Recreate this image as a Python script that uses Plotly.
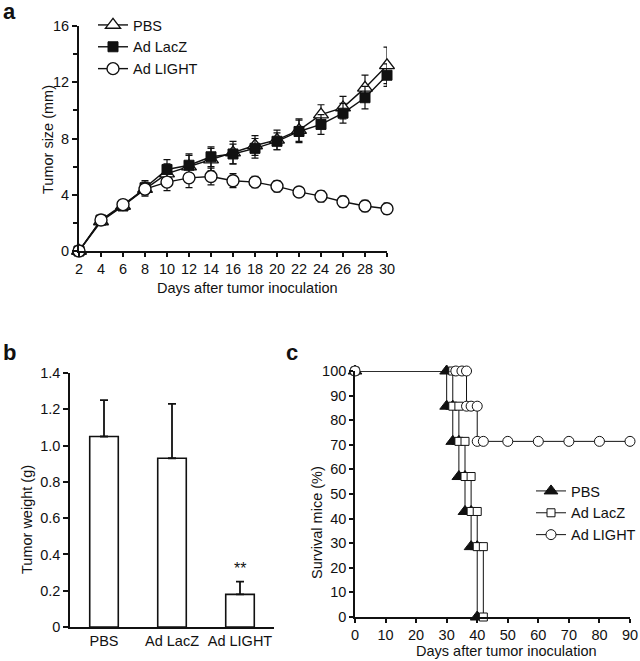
import plotly.graph_objects as go

# ---------------- data ----------------
days = [2, 4, 6, 8, 10, 12, 14, 16, 18, 20, 22, 24, 26, 28, 30]
pbs_size = [0, 2.1, 3.2, 4.4, 5.5, 6.0, 6.5, 7.0, 7.5, 7.9, 8.6, 9.7, 10.2, 11.6, 13.2]
pbs_err = [0, 0.2, 0.2, 0.5, 0.7, 0.8, 0.8, 0.8, 0.7, 0.7, 0.8, 0.7, 0.8, 0.9, 1.3]
lacz_size = [0, 2.2, 3.2, 4.5, 5.8, 6.1, 6.7, 6.9, 7.3, 7.8, 8.5, 9.0, 9.8, 10.9, 12.5]
lacz_err = [0, 0.2, 0.2, 0.5, 0.7, 0.8, 0.7, 0.7, 0.7, 0.6, 0.8, 0.7, 0.7, 0.8, 0.8]
light_size = [0, 2.2, 3.3, 4.4, 4.9, 5.2, 5.3, 5.0, 4.9, 4.6, 4.2, 3.9, 3.5, 3.2, 3.0]
light_err = [0, 0.2, 0.2, 0.4, 0.6, 0.7, 0.6, 0.5, 0.4, 0.4, 0.3, 0.4, 0.4, 0.4, 0.4]

groups = ["PBS", "Ad LacZ", "Ad LIGHT"]
weight = [1.05, 0.93, 0.18]
weight_err = [0.20, 0.30, 0.07]

pbs_t = [0, 30, 30, 32, 32, 34, 34, 36, 36, 38, 38, 40, 40]
pbs_s = [100, 100, 85.7, 85.7, 71.4, 71.4, 57.1, 57.1, 42.9, 42.9, 28.6, 28.6, 0]
lacz_t = [0, 32, 32, 34, 34, 36, 36, 38, 38, 40, 40, 42, 42]
lacz_s = [100, 100, 85.7, 85.7, 71.4, 71.4, 57.1, 57.1, 42.9, 42.9, 28.6, 28.6, 0]
light_t = [0, 33, 35, 36.5, 36.5, 38, 40, 40, 42, 50, 60, 70, 80, 90]
light_s = [100, 100, 100, 100, 85.7, 85.7, 85.7, 71.4, 71.4, 71.4, 71.4, 71.4, 71.4, 71.4]

W, H = 640, 661
FONT = "Arial, Liberation Sans, sans-serif"
INK = "#111111"


def px_x(a, b):
    return [a / W, b / W]


def px_y(top, bottom):
    return [1 - bottom / H, 1 - top / H]


fig = go.Figure()

# ---------------- panel a ----------------
err_style = dict(type="data", thickness=1.2, width=3.5, color=INK)
fig.add_trace(go.Scatter(
    x=days, y=pbs_size, name="PBS", mode="lines+markers",
    error_y=dict(array=pbs_err, **err_style),
    line=dict(color=INK, width=1.4),
    marker=dict(symbol="triangle-up", size=13, color="white", line=dict(color=INK, width=1.4)),
    xaxis="x", yaxis="y", legend="legend", cliponaxis=False))
fig.add_trace(go.Scatter(
    x=days, y=lacz_size, name="Ad LacZ", mode="lines+markers",
    error_y=dict(array=lacz_err, **err_style),
    line=dict(color=INK, width=1.4),
    marker=dict(symbol="square", size=10, color=INK, line=dict(color=INK, width=1)),
    xaxis="x", yaxis="y", legend="legend", cliponaxis=False))
fig.add_trace(go.Scatter(
    x=days, y=light_size, name="Ad LIGHT", mode="lines+markers",
    error_y=dict(array=light_err, **err_style),
    line=dict(color=INK, width=1.4),
    marker=dict(symbol="circle", size=12, color="white", line=dict(color=INK, width=1.4)),
    xaxis="x", yaxis="y", legend="legend", cliponaxis=False))

# ---------------- panel b ----------------
fig.add_trace(go.Bar(
    x=[0, 1, 2], y=weight, width=0.42, showlegend=False,
    marker=dict(color="white", line=dict(color=INK, width=1.6)),
    error_y=dict(type="data", symmetric=False, array=weight_err,
                 arrayminus=[0, 0, 0], thickness=1.8, width=4, color=INK),
    xaxis="x2", yaxis="y2"))

# ---------------- panel c ----------------
fig.add_trace(go.Scatter(
    x=pbs_t, y=pbs_s, name="PBS", mode="lines+markers",
    line=dict(color=INK, width=1),
    marker=dict(symbol="triangle-up", size=12, color=INK, line=dict(color=INK, width=1)),
    xaxis="x3", yaxis="y3", legend="legend2", cliponaxis=False))
fig.add_trace(go.Scatter(
    x=lacz_t, y=lacz_s, name="Ad LacZ", mode="lines+markers",
    line=dict(color=INK, width=1),
    marker=dict(symbol="square", size=8, color="white", line=dict(color=INK, width=1)),
    xaxis="x3", yaxis="y3", legend="legend2", cliponaxis=False))
fig.add_trace(go.Scatter(
    x=light_t, y=light_s, name="Ad LIGHT", mode="lines+markers",
    line=dict(color=INK, width=1),
    marker=dict(symbol="circle", size=10, color="white", line=dict(color=INK, width=1)),
    xaxis="x3", yaxis="y3", legend="legend2", cliponaxis=False))

tickfont = dict(family=FONT, size=14.5, color=INK)
common = dict(showgrid=False, zeroline=False, showline=True, linecolor=INK,
              ticks="outside", tickcolor=INK, tickfont=tickfont, fixedrange=True)

layout = dict(
    width=W, height=H, margin=dict(l=0, r=0, t=0, b=0, autoexpand=False),
    paper_bgcolor="white", plot_bgcolor="white",
    font=dict(family=FONT, color=INK),
    xaxis=dict(domain=px_x(79, 387), range=[2, 30], tickvals=days, linewidth=2,
               ticklen=4, tickwidth=1.5, anchor="y", **common),
    yaxis=dict(domain=px_y(26, 251), range=[0, 16], tickvals=[0, 4, 8, 12, 16],
               linewidth=2, ticklen=5, tickwidth=1.5, anchor="x",
               minor=dict(tickvals=[2, 6, 10, 14], ticks="outside", ticklen=4, tickcolor=INK, tickwidth=1.5),
               **common),
    xaxis2=dict(domain=px_x(70, 274), range=[-0.5, 2.5], tickvals=[0, 1, 2], ticktext=groups,
                linewidth=1.6, ticklen=0, anchor="y2",
                **{k: v for k, v in common.items() if k != "ticks"}, ticks=""),
    yaxis2=dict(domain=px_y(373, 627), range=[0, 1.4],
                tickvals=[0, 0.2, 0.4, 0.6, 0.8, 1.0, 1.2, 1.4],
                ticktext=["0", "0.2", "0.4", "0.6", "0.8", "1.0", "1.2", "1.4"],
                linewidth=1.6, ticklen=5, tickwidth=1.5, anchor="x2", **common),
    xaxis3=dict(domain=px_x(355, 630), range=[0, 90], dtick=10, linewidth=1.6,
                ticklen=4, tickwidth=1.5, anchor="y3", **common),
    yaxis3=dict(domain=px_y(371, 617), range=[0, 100], dtick=10, linewidth=1.6,
                ticklen=4, tickwidth=1.5, anchor="x3", **common),
    legend=dict(x=93 / W, y=1 - 9 / H, xanchor="left", yanchor="top",
                font=dict(family=FONT, size=14.5, color=INK), bgcolor="rgba(0,0,0,0)",
                tracegroupgap=0, itemsizing="trace"),
    legend2=dict(x=531 / W, y=1 - 475 / H, xanchor="left", yanchor="top",
                 font=dict(family=FONT, size=14.5, color=INK), bgcolor="rgba(0,0,0,0)",
                 tracegroupgap=0, itemsizing="trace"),
    showlegend=True,
)
fig.update_layout(**layout)

titlefont = dict(family=FONT, size=14.5, color=INK)
ann = [
    dict(text="<b>a</b>", x=9 / W, y=1 - 12 / H, font=dict(family=FONT, size=22, color=INK)),
    dict(text="<b>b</b>", x=9 / W, y=1 - 352 / H, font=dict(family=FONT, size=22, color=INK)),
    dict(text="<b>c</b>", x=292 / W, y=1 - 352 / H, font=dict(family=FONT, size=22, color=INK)),
    dict(text="Days after tumor inoculation", x=247 / W, y=1 - 288 / H, font=titlefont),
    dict(text="Tumor size (mm)", x=48 / W, y=1 - 140 / H, textangle=-90, font=titlefont),
    dict(text="Tumor weight (g)", x=27 / W, y=1 - 520 / H, textangle=-90, font=titlefont),
    dict(text="Survival mice (%)", x=317 / W, y=1 - 523 / H, textangle=-90, font=titlefont),
    dict(text="Days after tumor inoculation", x=506 / W, y=1 - 651 / H, font=titlefont),
]
for a in ann:
    fig.add_annotation(xref="paper", yref="paper", showarrow=False,
                       xanchor="center", yanchor="middle", **a)

fig.add_annotation(text="**", x=2, y=0.265, xref="x2", yref="y2", showarrow=False,
                   xanchor="center", yanchor="bottom", font=dict(family=FONT, size=16, color=INK))

fig.write_html("out.html", config={"displayModeBar": False},
               post_script="document.body.style.margin='0px';document.body.style.overflow='hidden';")
